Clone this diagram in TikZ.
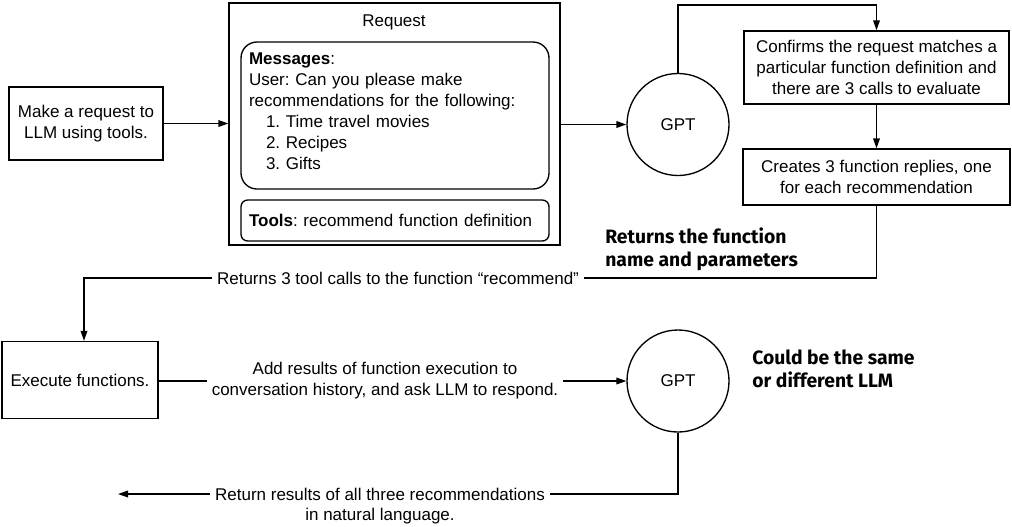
\documentclass[tikz,border=0pt]{standalone}
\usepackage{fontspec}
\setmainfont{Liberation Sans}
\newfontfamily\annotfont{Fira Sans}
\usetikzlibrary{arrows.meta}
\frenchspacing
\begin{document}
\begin{tikzpicture}[x=0.75pt,y=-0.75pt,
  every node/.style={font=\fontsize{12.75pt}{15.75pt}\selectfont},
  box/.style={draw, line width=1pt, inner sep=0pt, align=center},
  conn/.style={line width=1pt},
  arr/.style={conn, -{Triangle[length=7.5pt,width=5pt]}},
  annot/.style={font=\annotfont\bfseries\fontsize{14.5pt}{17.25pt}\selectfont, align=left, anchor=west, inner sep=0pt},
  gpt/.style={draw, circle, line width=1pt, minimum size=76.5pt, inner sep=0pt}
]
\useasboundingbox (0,0) rectangle (1012,526);

% left request box
\node[box, minimum width=115.5pt, minimum height=54.75pt] (req) at (86,123.5) {Make a request to\\LLM using tools.};

% request container
\node[box, minimum width=248.25pt, minimum height=181.5pt] (request) at (394.5,124) {};
\node (reqtitle) at (394,22) {Request};
\node[box, rounded corners=12pt, minimum width=231pt, minimum height=110.25pt] (msgbox) at (395,115.5) {};
\node[inner sep=0pt, text width=219pt, align=left] (msgtext) at (395,111) {\textbf{Messages}:\\
User: Can you please make\\
recommendations for the following:\\
\hspace*{12.75pt}1. Time travel movies\\
\hspace*{12.75pt}2. Recipes\\
\hspace*{12.75pt}3. Gifts};
\node[box, rounded corners=5pt, minimum width=231pt, minimum height=30.75pt, text width=219pt, align=left] (tools) at (395,220.5) {\textbf{Tools}: recommend function definition};

% GPT 1 and right column
\node[gpt] (gpt1) at (678,124.5) {GPT};
\node[box, minimum width=198.75pt, minimum height=54.75pt] (confirm) at (876.5,67.5) {Confirms the request matches a\\particular function definition and\\there are 3 calls to evaluate};
\node[box, minimum width=200.25pt, minimum height=42pt] (creates) at (876.5,177) {Creates 3 function replies, one\\for each recommendation};

\node[annot] (retfn) at (605,249) {Returns the function\\name and parameters};

% return line
\node (ret3) at (398,278) {Returns 3 tool calls to the function “recommend”};

% execute row
\node[box, minimum width=117pt, minimum height=57.75pt] (exec) at (80,380) {Execute functions.};
\node[align=center] (add) at (385,381) {Add results of function execution to\\conversation history, and ask LLM to respond.};
\node[gpt] (gpt2) at (678,381) {GPT};
\node[annot] (same) at (752,369) {Could be the same\\or different LLM};

% final
\node (res1) at (380,494) {Return results of all three recommendations};
\node[inner sep=0pt] (res2) at (380,516) {in natural language.};
\coordinate (endpt) at (118,494);

% connectors
\draw[arr] (req.east) -- (request.west |- req.east);
\draw[arr] (request.east |- gpt1.west) -- (gpt1.west);
\draw[arr] (gpt1.north) -- (gpt1.north |- 0,5) -| (confirm.north);
\draw[arr] (confirm.south) -- (creates.north);
\draw[conn] (creates.south) |- (ret3.east);
\draw[arr] (ret3.west) -| ([xshift=3pt]exec.north);
\draw[conn] (exec.east |- add.west) -- (add.west);
\draw[arr] (add.east) -- (gpt2.west);
\draw[conn] (gpt2.south) |- (res1.east);
\draw[arr] (res1.west) -- (endpt);
\end{tikzpicture}
\end{document}
